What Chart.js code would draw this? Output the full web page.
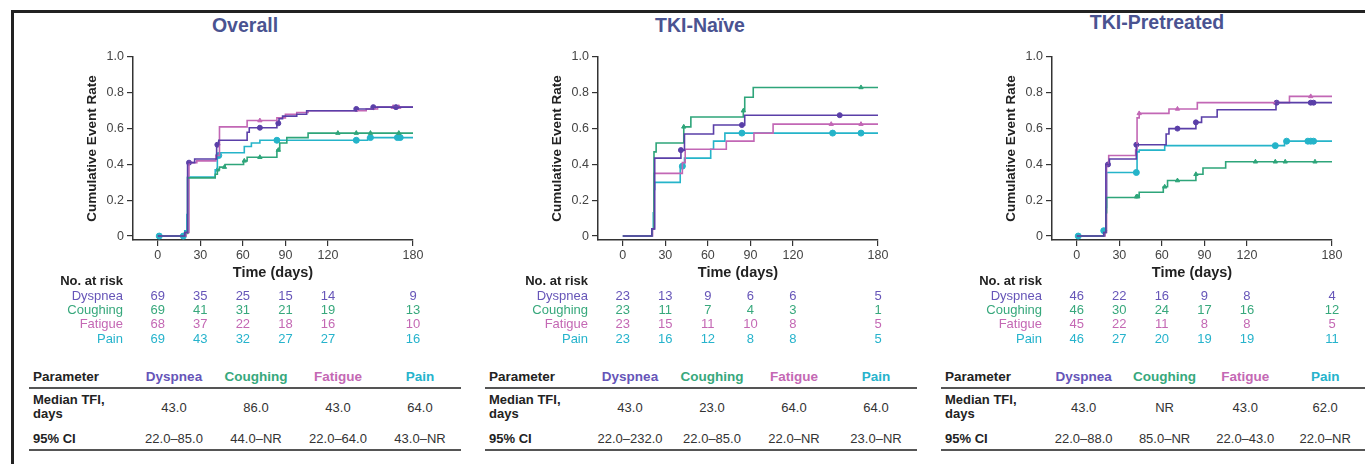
<!DOCTYPE html>
<html>
<head>
<meta charset="utf-8">
<script src="https://cdn.jsdelivr.net/npm/chart.js@4.4.1/dist/chart.umd.min.js"></script>
<style>
  body { margin: 0; width: 1365px; height: 464px; overflow: hidden; background: #fff;
         font-family: "Liberation Sans", Arial, sans-serif; position: relative; }
  .frame { position: absolute; left: 11px; top: 10px; right: -5px; bottom: -5px;
           border-top: 3px solid #222; border-left: 3px solid #222; }
  .title { position: absolute; font-weight: bold; font-size: 19.5px; color: #4a5391;
           transform: translate(-50%, -50%); white-space: nowrap; }
  canvas { position: absolute; }
  .txt { position: absolute; font-size: 13px; white-space: nowrap; transform: translateY(-50%); }
  .num { transform: translate(-50%, -50%); }
  .right { transform: translate(-100%, -50%); text-align: right; }
  table.param { position: absolute; top: 366px; border-collapse: collapse; font-size: 13px; color: #333; }
  table.param td { padding: 0; text-align: center; }
  table.param td.first { text-align: left; font-weight: bold; color: #222; padding-left: 4px; }
  table.param tr.head td { height: 21px; font-weight: bold; font-size: 13.5px; border-bottom: 2px solid #555; }
  table.param tr.med td { height: 36px; }
  table.param tr.med td.first { line-height: 14px; }
  table.param tr.ci td { height: 22px; padding-top: 2px; border-bottom: 2px solid #555; }
</style>
</head>
<body>
<div class="frame"></div>
<canvas id="km0" width="346" height="237"></canvas>
<canvas id="km1" width="346" height="237"></canvas>
<canvas id="km2" width="346" height="237"></canvas>
<script>
const panelTitles = ["Overall", "TKI-Naïve", "TKI-Pretreated"];
const symptoms = ["Dyspnea", "Coughing", "Fatigue", "Pain"];
const xTicks = [0, 30, 60, 90, 120, 180];
const yTicks = [0, 0.2, 0.4, 0.6, 0.8, 1.0];

// step curves: [day, cumulative event rate]
const overallDyspnea = [[0,0],[19,0.02],[21,0.41],[26,0.43],[41.5,0.51],[43,0.535],[63,0.58],[64.5,0.605],[84,0.63],[85.5,0.655],[88,0.67],[98,0.68],[105,0.70],[140,0.71],[152,0.72],[180,0.72]];
const overallCoughing = [[0,0],[19,0.02],[21,0.325],[40.5,0.345],[42,0.37],[43.5,0.385],[47.5,0.40],[60.5,0.42],[63,0.44],[84,0.48],[86,0.52],[91,0.55],[106,0.575],[180,0.575]];
const overallFatigue = [[0,0],[20,0.02],[22,0.41],[27.5,0.42],[41,0.45],[43.5,0.61],[63,0.645],[84,0.66],[90,0.68],[98,0.69],[106,0.70],[147,0.71],[155,0.72],[180,0.72]];
const overallPain = [[0,0],[19,0.03],[20.5,0.12],[21,0.33],[40.5,0.37],[42,0.45],[43.5,0.465],[61,0.50],[66,0.52],[72,0.535],[148,0.55],[180,0.55]];

const naiveDyspnea = [[0,0],[20.5,0.04],[22.5,0.435],[41,0.48],[43.5,0.57],[64,0.62],[86,0.675],[180,0.675]];
const naiveCoughing = [[0,0],[20.5,0.04],[22,0.47],[23.5,0.52],[43,0.61],[48,0.665],[85,0.70],[86,0.775],[92,0.83],[180,0.83]];
const naiveFatigue = [[0,0],[21,0.04],[22,0.35],[42,0.41],[44,0.485],[73,0.53],[92.5,0.575],[106,0.625],[180,0.625]];
const naivePain = [[0,0],[20.5,0.04],[21.5,0.13],[22,0.26],[22.5,0.30],[40.5,0.39],[43.5,0.435],[62,0.485],[64,0.53],[72,0.575],[180,0.575]];

const preDyspnea = [[0,0],[19,0.02],[20.5,0.40],[23,0.43],[42,0.51],[63,0.57],[65,0.60],[84,0.635],[88,0.665],[99,0.705],[140.5,0.745],[180,0.745]];
const preCoughing = [[0,0],[19,0.02],[20.5,0.13],[21,0.215],[42,0.22],[44,0.245],[61,0.275],[64,0.31],[84,0.345],[89,0.38],[105,0.415],[180,0.415]];
const preFatigue = [[0,0],[20,0.02],[21,0.40],[22.5,0.45],[41.5,0.48],[42.5,0.66],[44,0.685],[65,0.71],[85,0.745],[150,0.78],[180,0.78]];
const prePain = [[0,0],[19,0.03],[20.5,0.16],[21,0.355],[42.5,0.47],[44,0.48],[62,0.505],[146.5,0.53],[180,0.53]];

// censoring days
const overallDyspneaCens = [22, 42, 72, 85, 140, 152, 168];
const overallCoughingCens = [20, 42, 47, 61, 72, 85, 127, 140, 150, 170];
const overallFatigueCens = [72, 166, 170];
const overallPainCens = [1, 18, 43, 84, 140, 150, 169, 171];
const naiveDyspneaCens = [41, 84, 153];
const naiveCoughingCens = [43, 85, 168];
const naiveFatigueCens = [147, 168];
const naivePainCens = [42, 84, 148, 168];
const preDyspneaCens = [22, 42, 71, 84, 141, 165, 167];
const preCoughingCens = [42, 43, 62, 71, 84, 126, 140, 147, 168];
const preFatigueCens = [44, 71, 140, 165];
const prePainCens = [1, 19, 42, 140, 148, 163, 165, 167];

// numbers at risk at xTicks
const overallRisk = [[69,35,25,15,14,9],[69,41,31,21,19,13],[68,37,22,18,16,10],[69,43,32,27,27,16]];
const naiveRisk = [[23,13,9,6,6,5],[23,11,7,4,3,1],[23,15,11,10,8,5],[23,16,12,8,8,5]];
const preRisk = [[46,22,16,9,8,4],[46,30,24,17,16,12],[45,22,11,8,8,5],[46,27,20,19,19,11]];

const overallMedian = ["43.0", "86.0", "43.0", "64.0"];
const overallCI = ["22.0–85.0", "44.0–NR", "22.0–64.0", "43.0–NR"];
const naiveMedian = ["43.0", "23.0", "64.0", "64.0"];
const naiveCI = ["22.0–232.0", "22.0–85.0", "22.0–NR", "23.0–NR"];
const preMedian = ["43.0", "NR", "43.0", "62.0"];
const preCI = ["22.0–88.0", "85.0–NR", "22.0–43.0", "22.0–NR"];

const lineColors = ["#5a3fa8", "#2ea57a", "#c267b5", "#25b4c9"];
const textColors = ["#6655b8", "#37a87c", "#c468b4", "#26b3cc"];
const markerStyles = ["circle", "triangle", "triangle", "circle"];

Chart.defaults.font.family = "'Liberation Sans', Arial, sans-serif";

const panels = [
  { left: 81, axis: 133, tableLeft: 29, title: 245, titleY: 25,
    curves: [overallDyspnea, overallCoughing, overallFatigue, overallPain],
    cens: [overallDyspneaCens, overallCoughingCens, overallFatigueCens, overallPainCens],
    risk: overallRisk, median: overallMedian, ci: overallCI },
  { left: 546, axis: 598, tableLeft: 485, title: 700, titleY: 25,
    curves: [naiveDyspnea, naiveCoughing, naiveFatigue, naivePain],
    cens: [naiveDyspneaCens, naiveCoughingCens, naiveFatigueCens, naivePainCens],
    risk: naiveRisk, median: naiveMedian, ci: naiveCI },
  { left: 1000, axis: 1052, tableLeft: 941, title: 1157, titleY: 22,
    curves: [preDyspnea, preCoughing, preFatigue, prePain],
    cens: [preDyspneaCens, preCoughingCens, preFatigueCens, prePainCens],
    risk: preRisk, median: preMedian, ci: preCI }
];

function stepValue(curve, t) {
  let v = 0;
  for (const [d, r] of curve) if (d <= t) v = r;
  return v;
}

function addText(cls, text, x, y, color, bold) {
  const el = document.createElement("div");
  el.className = "txt " + cls;
  el.textContent = text;
  el.style.left = x + "px";
  el.style.top = y + "px";
  el.style.color = color;
  if (bold) el.style.fontWeight = "bold";
  document.body.appendChild(el);
}

panels.forEach((p, i) => {
  const t = document.createElement("div");
  t.className = "title";
  t.textContent = panelTitles[i];
  t.style.left = p.title + "px";
  t.style.top = p.titleY + "px";
  document.body.appendChild(t);

  const canvas = document.getElementById("km" + i);
  canvas.style.left = p.left + "px";
  canvas.style.top = "45px";

  const datasets = [];
  p.curves.forEach((c, k) => {
    datasets.push({
      data: c.map(([x, y]) => ({ x, y })),
      stepped: "before",
      borderColor: lineColors[k],
      borderWidth: 1.6,
      pointRadius: 0,
      fill: false
    });
  });
  p.cens.forEach((cs, k) => {
    datasets.push({
      data: cs.map(d => ({ x: d, y: stepValue(p.curves[k], d) })),
      showLine: false,
      pointStyle: markerStyles[k],
      pointRadius: k === 3 ? 3 : 2.5,
      pointBackgroundColor: lineColors[k],
      pointBorderColor: lineColors[k],
      pointBorderWidth: 1
    });
  });

  const chart = new Chart(canvas, {
    type: "line",
    data: { datasets },
    options: {
      responsive: false,
      animation: false,
      layout: { padding: { top: 12, right: 14, bottom: 0, left: 0 } },
      plugins: { legend: { display: false }, tooltip: { enabled: false } },
      scales: {
        x: {
          type: "linear", min: -17.5, max: 180,
          afterBuildTicks: s => { s.ticks = xTicks.map(v => ({ value: v })); },
          afterFit: s => { s.height = 42; },
          grid: { drawOnChartArea: false, tickLength: 6, color: "#333", lineWidth: 1.2 },
          border: { color: "#333", width: 1.5 },
          ticks: { color: "#444", font: { size: 12.5 }, padding: 2, maxRotation: 0 },
          title: { display: true, text: "Time (days)", color: "#222",
                   font: { size: 14.5, weight: "bold" }, padding: { top: 0, bottom: 0 } }
        },
        y: {
          min: -0.022, max: 1.0,
          afterBuildTicks: s => { s.ticks = yTicks.map(v => ({ value: v })); },
          afterFit: s => { s.width = 52; },
          grid: { drawOnChartArea: false, tickLength: 6, color: "#333", lineWidth: 1.2 },
          border: { color: "#333", width: 1.5 },
          ticks: { color: "#444", font: { size: 12.5 }, padding: 3,
                   callback: v => v === 0 ? "0" : v.toFixed(1) },
          title: { display: true, text: "Cumulative Event Rate", color: "#222",
                   font: { size: 13.5, weight: "bold" }, padding: { top: 3, bottom: 0 } }
        }
      }
    }
  });

  // numbers at risk, placed on the chart's own x scale
  const labelX = p.axis - 10;
  addText("right", "No. at risk", labelX, 280, "#222", true);
  symptoms.forEach((s, k) => {
    const y = 295 + k * 14.2;
    addText("right", s, labelX, y, textColors[k], false);
    p.risk[k].forEach((n, j) => {
      const x = p.left + chart.scales.x.getPixelForValue(xTicks[j]);
      addText("num", String(n), x, y, textColors[k], false);
    });
  });

  // parameter table
  const tbl = document.createElement("table");
  tbl.className = "param";
  tbl.style.left = p.tableLeft + "px";
  const widths = [104, 82, 82, 82, 82];
  let html = "<colgroup>" + widths.map(w => `<col style="width:${w}px">`).join("") + "</colgroup>";
  html += '<tr class="head"><td class="first">Parameter</td>' +
    symptoms.map((s, k) => `<td style="color:${textColors[k]}">${s}</td>`).join("") + "</tr>";
  html += '<tr class="med"><td class="first">Median TFI,<br>days</td>' +
    p.median.map(v => `<td>${v}</td>`).join("") + "</tr>";
  html += '<tr class="ci"><td class="first">95% CI</td>' +
    p.ci.map(v => `<td>${v}</td>`).join("") + "</tr>";
  tbl.innerHTML = html;
  document.body.appendChild(tbl);
});
</script>
</body>
</html>
